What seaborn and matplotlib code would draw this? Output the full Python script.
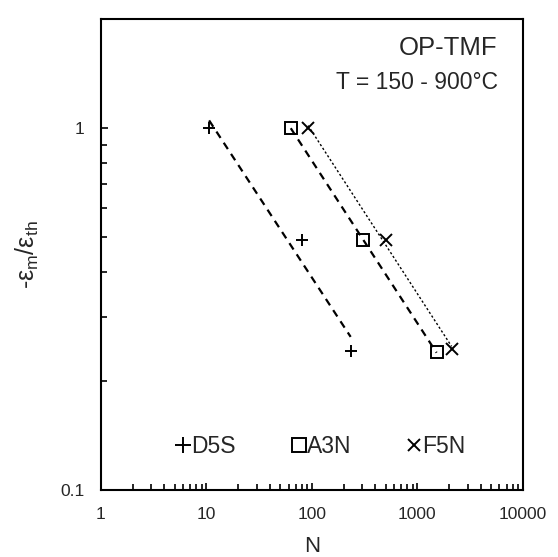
import numpy as np
import pandas as pd
import matplotlib
matplotlib.use("Agg")
import matplotlib.pyplot as plt
import seaborn as sns
from matplotlib.lines import Line2D
from matplotlib.ticker import FixedLocator, FixedFormatter, NullFormatter, LogLocator

# ---- data ----
series_names = ["D5S", "A3N", "F5N"]
d5s_N = [10.6, 80, 233]
d5s_ratio = [1.0, 0.49, 0.242]
a3n_N = [63, 306, 1520]
a3n_ratio = [1.0, 0.49, 0.24]
f5n_N = [92, 504, 2110]
f5n_ratio = [1.0, 0.49, 0.245]

x_ticks = [1, 10, 100, 1000, 10000]
x_tick_labels = ["1", "10", "100", "1000", "10000"]
y_ticks = [0.1, 1]
y_tick_labels = ["0.1", "1"]

df = pd.concat([
    pd.DataFrame({"N": d5s_N, "r": d5s_ratio, "s": "D5S"}),
    pd.DataFrame({"N": a3n_N, "r": a3n_ratio, "s": "A3N"}),
    pd.DataFrame({"N": f5n_N, "r": f5n_ratio, "s": "F5N"}),
], ignore_index=True)

sns.set_style("white")
plt.rcParams["font.family"] = ["Liberation Sans", "DejaVu Sans"]
plt.rcParams["mathtext.fontset"] = "custom"
plt.rcParams["mathtext.rm"] = "Liberation Sans"
plt.rcParams["mathtext.it"] = "Liberation Sans"

fig = plt.figure(figsize=(5.58, 5.57), dpi=100)
ax = fig.add_axes([0.181, 0.120, 0.756, 0.846])
ax.set_xscale("log")
ax.set_yscale("log")

styles = {
    "D5S": dict(marker="+", ls=(0, (3.4, 2.6)), lw=1.6, ms=9),
    "A3N": dict(marker="s", ls=(0, (3.4, 2.6)), lw=1.6, ms=9),
    "F5N": dict(marker="x", ls=(0, (1.6, 1.6)), lw=1.0, ms=9),
}

# power-law trendlines fitted in log-log space over each series' range
for name in series_names:
    sub = df[df["s"] == name]
    lx, ly = np.log10(sub["N"].values), np.log10(sub["r"].values)
    b, a = np.polyfit(lx, ly, 1)
    xs = np.array([sub["N"].min(), sub["N"].max()])
    fit = pd.DataFrame({"N": xs, "r": 10 ** (a + b * np.log10(xs))})
    sns.lineplot(data=fit, x="N", y="r", ax=ax, color="black",
                 linestyle=styles[name]["ls"], lw=styles[name]["lw"])

for name in series_names:
    sub = df[df["s"] == name]
    st = styles[name]
    sns.lineplot(data=sub, x="N", y="r", ax=ax, linestyle="none",
                 marker=st["marker"], markersize=st["ms"],
                 markerfacecolor="none", markeredgecolor="black",
                 markeredgewidth=1.4, color="black")

ax.set_xlim(1, 10000)
ax.set_ylim(0.1, 2)

ax.xaxis.set_major_locator(FixedLocator(x_ticks))
ax.xaxis.set_major_formatter(FixedFormatter(x_tick_labels))
ax.xaxis.set_minor_locator(LogLocator(base=10, subs=np.arange(2, 10)))
ax.xaxis.set_minor_formatter(NullFormatter())
ax.yaxis.set_major_locator(FixedLocator(y_ticks))
ax.yaxis.set_major_formatter(FixedFormatter(y_tick_labels))
ax.yaxis.set_minor_locator(LogLocator(base=10, subs=np.arange(2, 10)))
ax.yaxis.set_minor_formatter(NullFormatter())

ax.tick_params(which="both", direction="in", color="black", width=1.2,
               bottom=True, left=True, top=False, right=False)
ax.tick_params(which="major", length=5, labelsize=12.5)
ax.tick_params(axis="x", which="major", pad=12)
ax.tick_params(axis="y", which="major", pad=12)
ax.tick_params(which="minor", length=4)
for sp in ax.spines.values():
    sp.set_color("black")
    sp.set_linewidth(1.5)

ax.set_xlabel("N", fontsize=16, labelpad=10)
ax.set_ylabel("-ε$_\\mathregular{m}$/ε$_\\mathregular{th}$", fontsize=18, labelpad=14)

ax.text(0.94, 0.938, "OP-TMF", transform=ax.transAxes, ha="right", va="center",
        fontsize=18.5)
ax.text(0.94, 0.866, "T = 150 - 900°C", transform=ax.transAxes, ha="right",
        va="center", fontsize=16.5)

handles = [
    Line2D([], [], ls="none", marker="+", ms=11, mew=1.4, color="black"),
    Line2D([], [], ls="none", marker="s", ms=10, mew=1.4, mfc="none", mec="black"),
    Line2D([], [], ls="none", marker="x", ms=9, mew=1.4, color="black"),
]
ax.legend(handles, series_names, loc="center", bbox_to_anchor=(0.52, 0.093),
          ncol=3, frameon=False, fontsize=16.5, handlelength=0.7,
          handletextpad=0.0, columnspacing=2.4)

fig.savefig("out.png", dpi=100)
